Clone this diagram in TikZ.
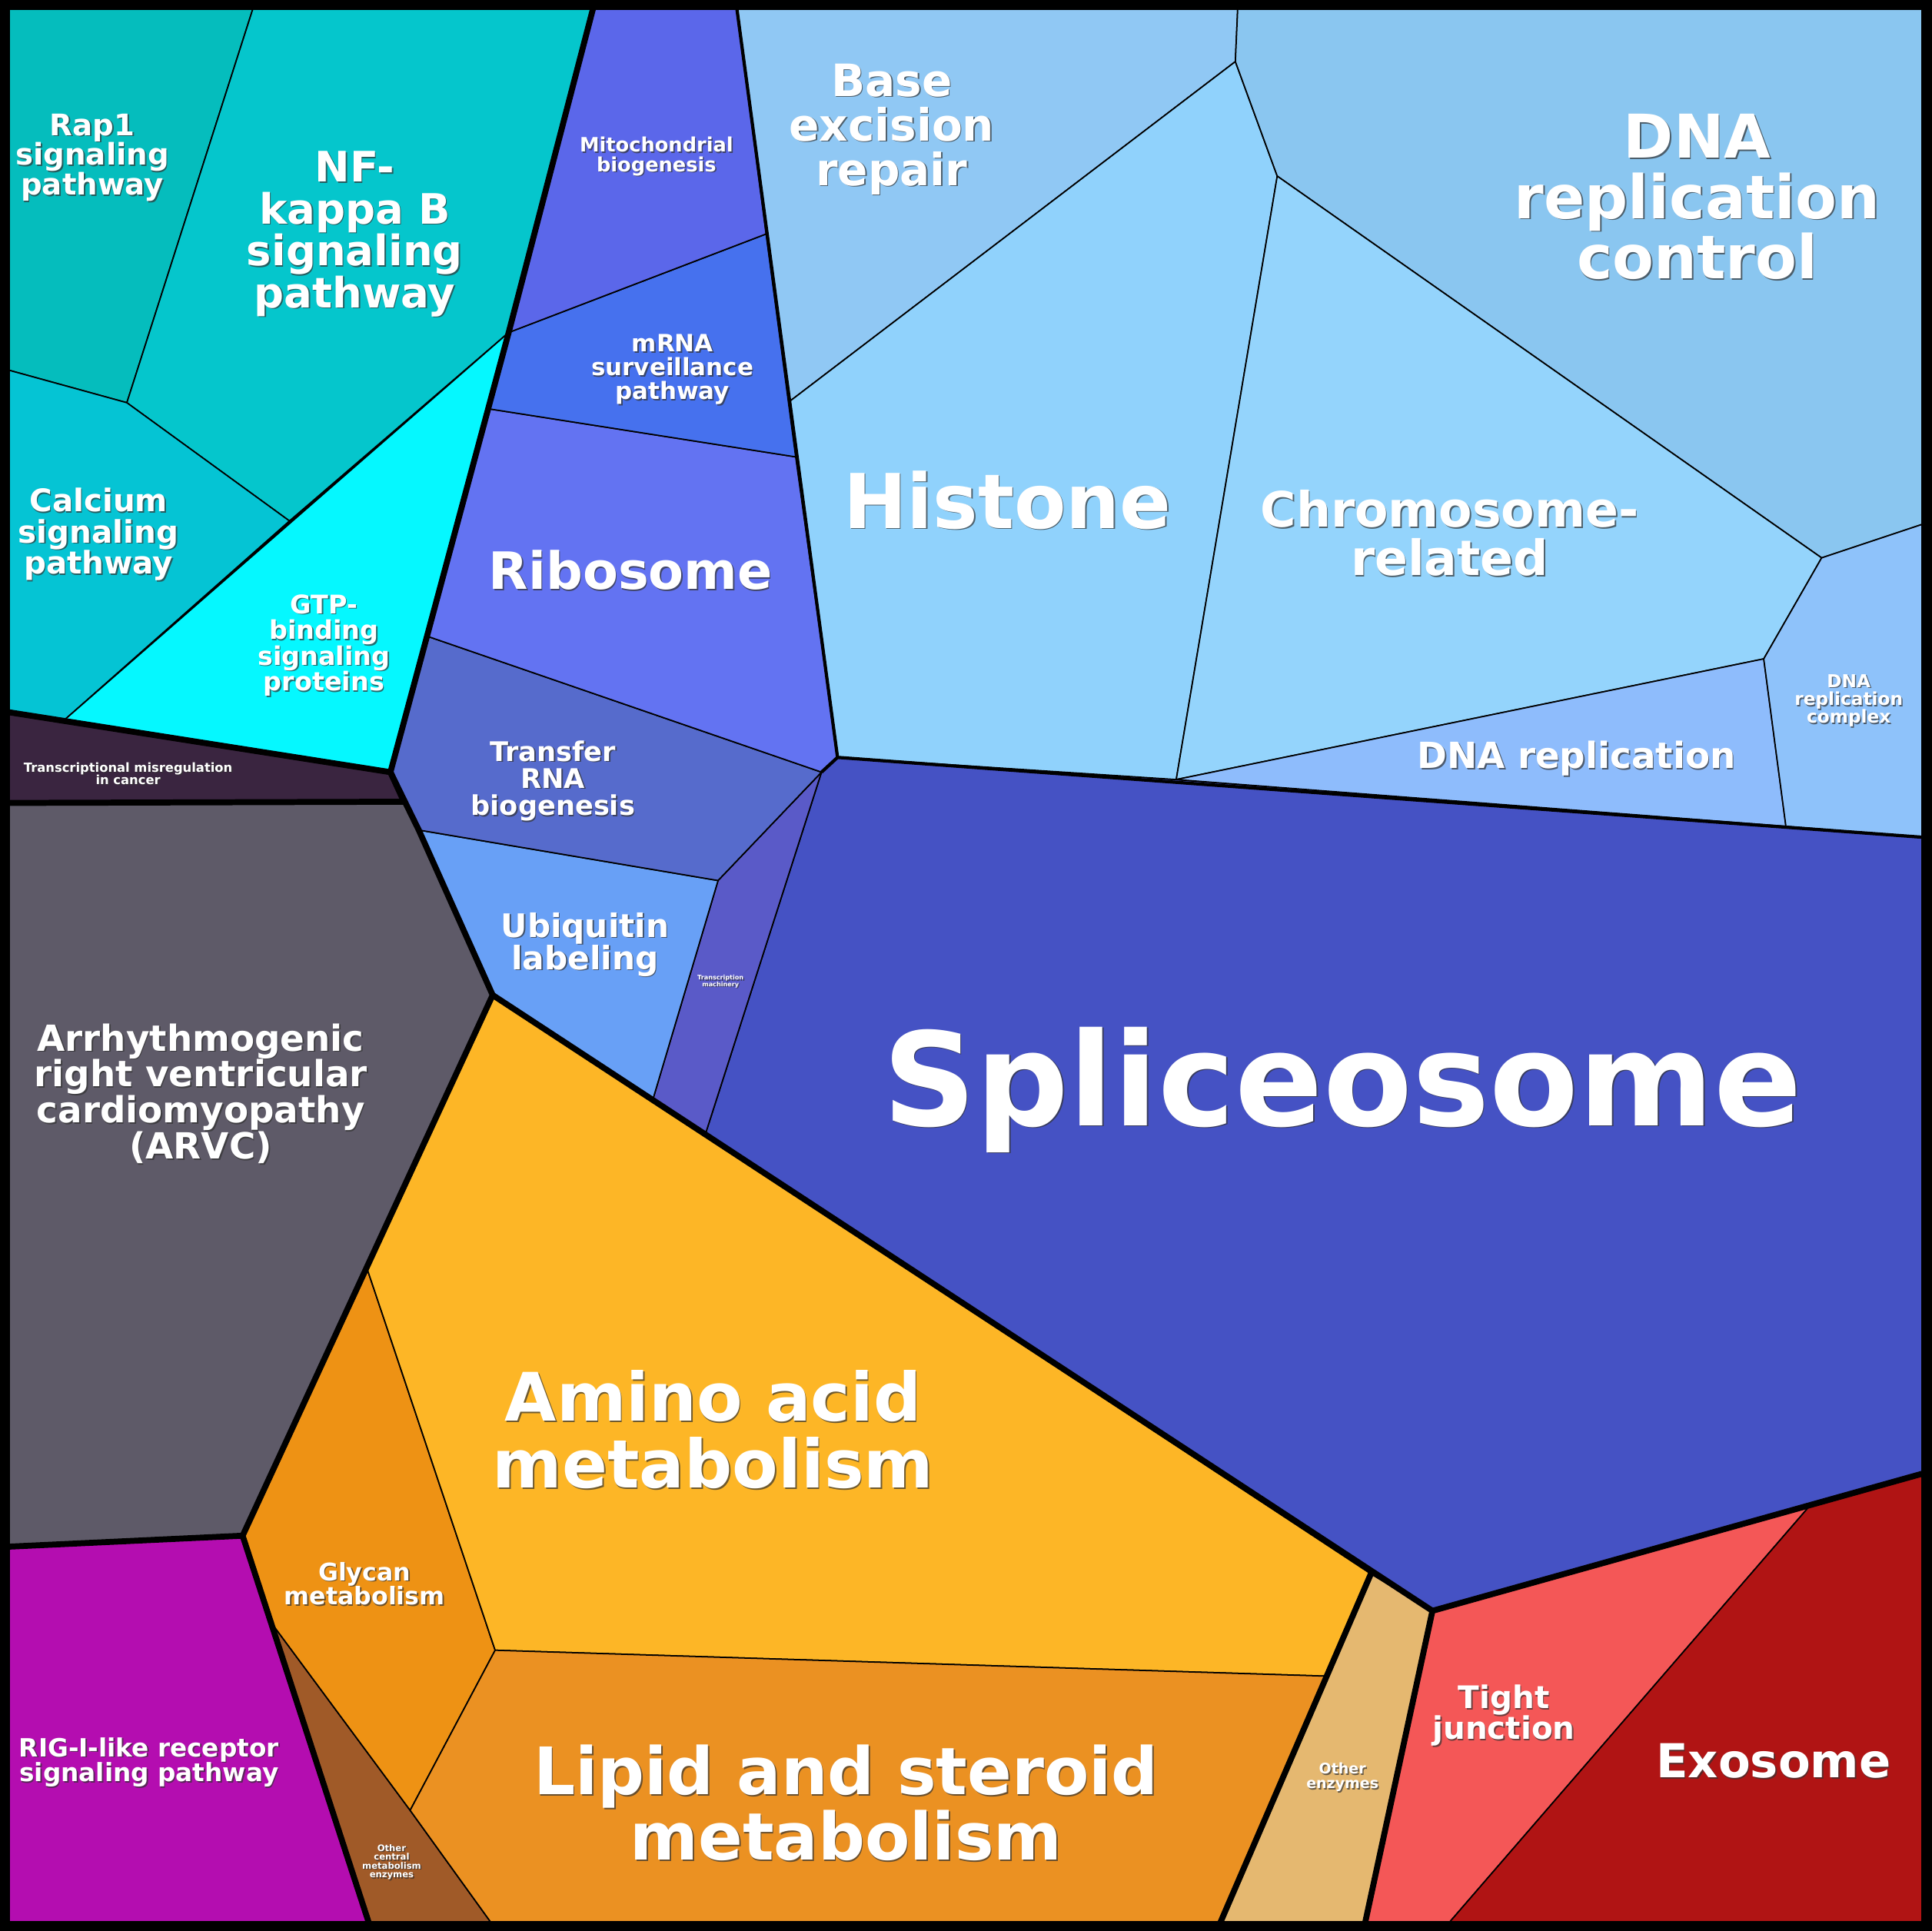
\documentclass[tikz,border=0pt]{standalone}
\usepackage{fontspec}
\setmainfont{DejaVu Sans}
\begin{document}
\newcommand{\lbl}[4]{%
\node[align=center,text=black!80,opacity=0.7,font=\bfseries\fontsize{#3}{#3}\selectfont] at ([xshift=0.45pt,yshift=-0.45pt]#2) {#4};
\node[align=center,text=white,font=\bfseries\fontsize{#3}{#3}\selectfont] (#1) at (#2) {#4};}
\begin{tikzpicture}[x=0.016cm,y=-0.016cm,
  cell/.style={draw=black,line width=0.5pt,line join=round},
  thick line/.style={draw=black,line width=2.2pt,line join=round,line cap=round}]
\useasboundingbox (0,0) rectangle (1568,1568);
\fill[black] (0,0) rectangle (1568,1568);
% cells
\filldraw[cell,fill={rgb,255:red,5;green,189;blue,189}] (5,5)--(206,5)--(103,327)--(5,300)--cycle;
\filldraw[cell,fill={rgb,255:red,5;green,198;blue,204}] (206,5)--(482,5)--(413,270)--(235,423)--(103,327)--cycle;
\filldraw[cell,fill={rgb,255:red,5;green,196;blue,212}] (5,300)--(103,327)--(235,423)--(53,584)--(5,578)--cycle;
\filldraw[cell,fill={rgb,255:red,5;green,248;blue,255}] (413,270)--(53,584)--(317,627)--cycle;
\filldraw[cell,fill={rgb,255:red,58;green,37;blue,64}] (5,578)--(317,627)--(328,651)--(5,652)--cycle;
\filldraw[cell,fill={rgb,255:red,94;green,90;blue,104}] (5,652)--(328,651)--(400,808)--(197,1247)--(5,1256)--cycle;
\filldraw[cell,fill={rgb,255:red,180;green,13;blue,176}] (5,1256)--(197,1247)--(222,1320)--(300,1563)--(5,1563)--cycle;
\filldraw[cell,fill={rgb,255:red,160;green,90;blue,40}] (222,1320)--(333,1470)--(400,1563)--(300,1563)--cycle;
\filldraw[cell,fill={rgb,255:red,238;green,146;blue,20}] (197,1247)--(298,1030)--(402,1340)--(333,1470)--(222,1320)--cycle;
\filldraw[cell,fill={rgb,255:red,253;green,182;blue,38}] (400,808)--(1113,1278)--(1076,1361)--(402,1340)--(298,1030)--cycle;
\filldraw[cell,fill={rgb,255:red,229;green,184;blue,112}] (1113,1278)--(1163,1308)--(1108,1563)--(990,1563)--(1076,1361)--cycle;
\filldraw[cell,fill={rgb,255:red,235;green,145;blue,34}] (402,1340)--(1076,1361)--(990,1563)--(400,1563)--(333,1470)--cycle;
\filldraw[cell,fill={rgb,255:red,244;green,87;blue,87}] (1163,1308)--(1470,1222)--(1175,1563)--(1108,1563)--cycle;
\filldraw[cell,fill={rgb,255:red,176;green,20;blue,20}] (1470,1222)--(1563,1196)--(1563,1563)--(1175,1563)--cycle;
\filldraw[cell,fill={rgb,255:red,69;green,82;blue,196}] (680,615)--(955,633)--(1450,671)--(1563,680)--(1563,1196)--(1163,1308)--(573,920)--(667,627)--cycle;
\filldraw[cell,fill={rgb,255:red,90;green,90;blue,200}] (667,627)--(573,920)--(530,893)--(583,715)--cycle;
\filldraw[cell,fill={rgb,255:red,104;green,160;blue,246}] (340,674)--(583,715)--(530,893)--(400,808)--cycle;
\filldraw[cell,fill={rgb,255:red,86;green,107;blue,204}] (348,517)--(667,627)--(583,715)--(340,674)--(317,627)--cycle;
\filldraw[cell,fill={rgb,255:red,99;green,115;blue,242}] (397,332)--(646,371)--(680,615)--(667,627)--(348,517)--cycle;
\filldraw[cell,fill={rgb,255:red,70;green,113;blue,238}] (413,270)--(622,190)--(646,371)--(397,332)--cycle;
\filldraw[cell,fill={rgb,255:red,91;green,103;blue,234}] (482,5)--(598,5)--(622,190)--(413,270)--cycle;
\filldraw[cell,fill={rgb,255:red,144;green,200;blue,244}] (598,5)--(1005,5)--(1003,50)--(641,326)--cycle;
\filldraw[cell,fill={rgb,255:red,144;green,210;blue,252}] (641,326)--(1003,50)--(1037,143)--(955,633)--(680,615)--cycle;
\filldraw[cell,fill={rgb,255:red,138;green,198;blue,240}] (1005,5)--(1563,5)--(1563,425)--(1479,453)--(1037,143)--(1003,50)--cycle;
\filldraw[cell,fill={rgb,255:red,148;green,212;blue,252}] (1037,143)--(1479,453)--(1432,535)--(955,633)--cycle;
\filldraw[cell,fill={rgb,255:red,142;green,188;blue,252}] (955,633)--(1432,535)--(1450,671)--cycle;
\filldraw[cell,fill={rgb,255:red,142;green,194;blue,250}] (1479,453)--(1563,425)--(1563,680)--(1450,671)--(1432,535)--cycle;
% group borders
\draw[thick line] (482,5)--(413,270)--(317,627)--(5,578);
\draw[thick line] (317,627)--(328,651)--(5,652);
\draw[thick line] (317,627)--(340,674)--(400,808)--(197,1247)--(5,1256);
\draw[thick line] (197,1247)--(300,1563);
\draw[thick line] (400,808)--(1163,1308)--(1563,1196);
\draw[thick line] (1113,1278)--(990,1563);
\draw[thick line] (1163,1308)--(1108,1563);
\draw[draw=black,line width=1.2pt] (598,5)--(680,615)--(1563,680);
\draw[draw=black,line width=1.2pt] (680,615)--(667,627);
\draw[black,line width=5pt] (2.5,2.5) rectangle (1565.5,1565.5);
% labels
\lbl{rap}{75,128}{11}{Rap1\\signaling\\pathway}
\lbl{nfk}{288,190}{15.5}{NF-\\kappa B\\signaling\\pathway}
\lbl{cal}{80,434}{11.5}{Calcium\\signaling\\pathway}
\lbl{gtp}{263,524}{9.5}{GTP-\\binding\\signaling\\proteins}
\lbl{tmc}{104,628}{4.65}{Transcriptional misregulation\\in cancer}
\lbl{arvc}{163,888}{13.3}{Arrhythmogenic\\right ventricular\\cardiomyopathy\\(ARVC)}
\lbl{rig}{121,1431}{9.3}{RIG-I-like receptor\\signaling pathway}
\lbl{oce}{318,1512}{3.3}{Other\\central\\metabolism\\enzymes}
\lbl{gly}{296,1286}{9}{Glycan\\metabolism}
\lbl{ami}{579,1161}{24.7}{Amino acid\\metabolism}
\lbl{oen}{1090,1443}{5.4}{Other\\enzymes}
\lbl{lip}{687,1464}{24.2}{Lipid and steroid\\metabolism}
\lbl{tig}{1221,1393}{11.5}{Tight\\junction}
\lbl{exo}{1440,1430}{17.3}{Exosome}
\lbl{spl}{1090,885}{48}{Spliceosome}
\lbl{tma}{585,797}{2.3}{Transcription\\machinery}
\lbl{ubi}{475,767}{12}{Ubiquitin\\labeling}
\lbl{trn}{449,634}{10}{Transfer\\RNA\\biogenesis}
\lbl{rib}{512,463}{19}{Ribosome}
\lbl{mrn}{546,300}{8.8}{mRNA\\surveillance\\pathway}
\lbl{mit}{533,127}{7.3}{Mitochondrial\\biogenesis}
\lbl{bex}{724,105}{16.5}{Base\\excision\\repair}
\lbl{his}{818,406}{28}{Histone}
\lbl{drc}{1378,160}{22.3}{DNA\\replication\\control}
\lbl{chr}{1177,433}{18}{Chromosome-\\related}
\lbl{dnr}{1280,616}{13.3}{DNA replication}
\lbl{drx}{1501,569}{6.6}{DNA\\replication\\complex}
\end{tikzpicture}
\end{document}
